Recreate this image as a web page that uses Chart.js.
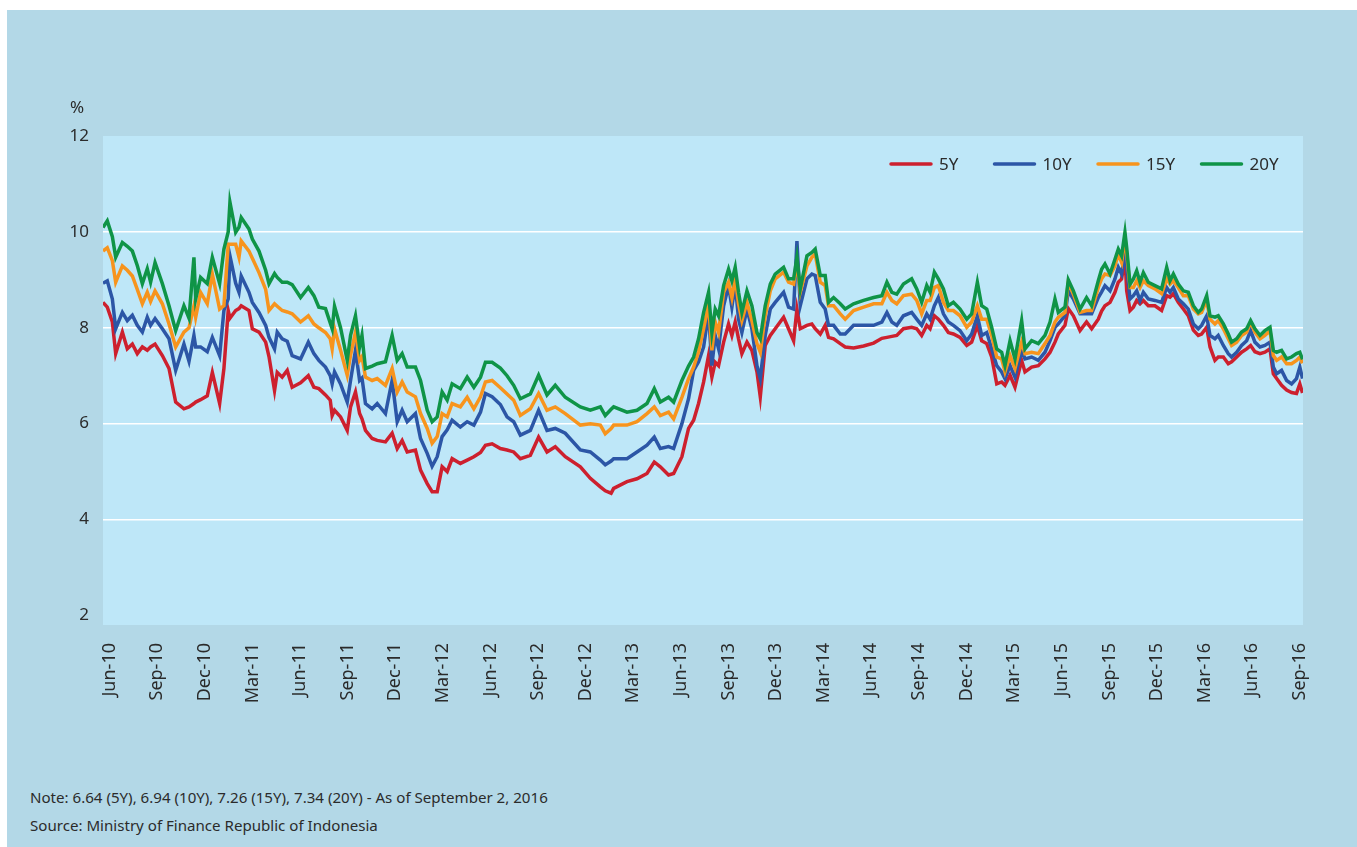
<!DOCTYPE html>
<html>
<head>
<meta charset="utf-8">
<title>Indonesia government bond yields</title>
<script src="https://cdn.jsdelivr.net/npm/chart.js@4.4.1/dist/chart.umd.min.js"></script>
<style>
html, body { margin: 0; padding: 0; background: #fff; }
#panel { position: absolute; left: 7px; top: 10px; width: 1350px; height: 837px; background: #b3d8e7;
  font-family: "Noto Sans", "Open Sans", sans-serif; color: #2b2b2b; }
#wrap { position: absolute; left: 0; top: 0; width: 1350px; height: 750px; }
#unit { position: absolute; left: 63px; top: 85px; font-size: 17px; line-height: 23px; }
.note { position: absolute; left: 23px; font-size: 15.1px; line-height: 20px; white-space: nowrap; }
</style>
</head>
<body>
<div id="panel">
  <div id="wrap"><canvas id="chart" width="1350" height="750"></canvas></div>
  <div id="unit">%</div>
  <div class="note" style="top:777px">Note: 6.64 (5Y), 6.94 (10Y), 7.26 (15Y), 7.34 (20Y) - As of September 2, 2016</div>
  <div class="note" style="top:805px">Source: Ministry of Finance Republic of Indonesia</div>
</div>
<script>
// months since June 2010
const months = [
  -0.42, -0.15, 0.17, 0.38, 0.8, 1.11, 1.43, 1.74, 2.06, 2.37, 2.58, 2.86, 3.32, 3.74, 4.16, 4.68, 5.0, 5.31, 5.42, 5.73,
  6.15, 6.47, 6.93, 7.2, 7.47, 7.58, 7.94, 8.15, 8.29, 8.78, 8.99, 9.41, 9.83, 10.04, 10.39, 10.56, 10.87, 11.19, 11.5, 12.03,
  12.52, 12.87, 13.18, 13.6, 13.9, 14.02, 14.17, 14.55, 14.97, 15.18, 15.49, 15.75, 15.9, 16.12, 16.54, 16.86, 17.38, 17.8, 18.12, 18.43,
  18.75, 19.27, 19.59, 20.01, 20.32, 20.64, 20.95, 21.27, 21.58, 22.1, 22.53, 22.95, 23.37, 23.68, 24.1, 24.62, 25.04, 25.46, 25.88, 26.51,
  27.03, 27.56, 28.08, 28.71, 29.66, 30.29, 30.92, 31.23, 31.6, 31.76, 32.6, 33.23, 33.86, 34.32, 34.7, 35.22, 35.54, 36.06, 36.48, 36.8,
  37.11, 37.43, 37.74, 37.95, 38.16, 38.37, 38.69, 39.0, 39.21, 39.42, 39.63, 39.84, 40.16, 40.47, 40.79, 41.0, 41.31, 41.63, 41.94, 42.47,
  42.78, 43.1, 43.31, 43.52, 43.94, 44.25, 44.46, 44.78, 45.09, 45.3, 45.62, 46.04, 46.35, 46.88, 47.51, 48.14, 48.66, 48.98, 49.29, 49.6,
  50.02, 50.54, 50.86, 51.17, 51.49, 51.7, 51.97, 52.22, 52.54, 52.85, 53.17, 53.59, 54.01, 54.32, 54.68, 54.95, 55.27, 55.58, 55.9, 56.21,
  56.42, 56.74, 57.05, 57.47, 57.68, 58.1, 58.52, 58.94, 59.26, 59.57, 59.78, 60.2, 60.41, 60.73, 61.15, 61.56, 61.88, 62.3, 62.51, 62.72,
  63.04, 63.35, 63.56, 63.77, 63.98, 64.09, 64.3, 64.51, 64.72, 64.93, 65.14, 65.45, 65.87, 66.29, 66.61, 66.82, 67.03, 67.34, 67.66, 67.97,
  68.29, 68.6, 68.81, 69.13, 69.34, 69.65, 69.86, 70.18, 70.49, 70.7, 71.02, 71.33, 71.65, 71.9, 72.17, 72.49, 72.8, 73.12, 73.33, 73.54,
  73.85, 74.17, 74.48, 74.79, 75.0, 75.17
];
const y5 = [
  8.53, 8.43, 8.12, 7.46, 7.91, 7.56, 7.66, 7.46, 7.6, 7.53, 7.6, 7.66, 7.42, 7.15, 6.45, 6.31, 6.35, 6.42, 6.45, 6.5,
  6.58, 7.07, 6.42, 7.15, 8.36, 8.2, 8.36, 8.4, 8.46, 8.36, 7.98, 7.91, 7.7, 7.4, 6.69, 7.07, 6.97, 7.11, 6.76, 6.85,
  7.0, 6.76, 6.73, 6.6, 6.49, 6.17, 6.28, 6.14, 5.86, 6.35, 6.66, 6.21, 6.1, 5.86, 5.69, 5.65, 5.62, 5.8, 5.48, 5.65,
  5.41, 5.45, 5.03, 4.75, 4.58, 4.58, 5.1, 5.0, 5.27, 5.17, 5.24, 5.31, 5.4, 5.55, 5.58, 5.48, 5.45, 5.41, 5.27, 5.34,
  5.72, 5.41, 5.52, 5.31, 5.1, 4.86, 4.68, 4.6, 4.55, 4.65, 4.79, 4.85, 4.96, 5.2, 5.1, 4.93, 4.96, 5.31, 5.9, 6.07,
  6.42, 6.87, 7.42, 6.97, 7.28, 7.21, 7.7, 8.08, 7.84, 8.12, 7.77, 7.46, 7.7, 7.53, 7.08, 6.56, 7.63, 7.84, 7.98, 8.22,
  7.98, 7.73, 8.39, 7.98, 8.05, 8.08, 7.98, 7.87, 8.05, 7.8, 7.77, 7.67, 7.6, 7.58, 7.62, 7.68, 7.78, 7.8, 7.82, 7.84,
  7.98, 8.01, 7.98, 7.84, 8.05, 7.98, 8.25, 8.18, 8.05, 7.9, 7.87, 7.8, 7.63, 7.7, 8.05, 7.73, 7.67, 7.39, 6.83, 6.87,
  6.8, 7.01, 6.76, 7.32, 7.08, 7.18, 7.21, 7.35, 7.49, 7.7, 7.87, 8.05, 8.4, 8.25, 7.94, 8.12, 7.98, 8.18, 8.35, 8.46,
  8.53, 8.74, 8.95, 9.02, 9.47, 8.77, 8.36, 8.43, 8.57, 8.5, 8.57, 8.46, 8.46, 8.36, 8.67, 8.64, 8.71, 8.53, 8.39, 8.25,
  7.95, 7.84, 7.87, 8.01, 7.6, 7.32, 7.39, 7.39, 7.25, 7.29, 7.39, 7.49, 7.56, 7.63, 7.5, 7.46, 7.49, 7.56, 7.04, 6.94,
  6.8, 6.7, 6.65, 6.63, 6.83, 6.64
];
const y10 = [
  8.93, 8.98, 8.6, 7.98, 8.32, 8.15, 8.26, 8.05, 7.91, 8.22, 8.05, 8.19, 7.98, 7.77, 7.11, 7.66, 7.3, 7.84, 7.6, 7.6,
  7.5, 7.8, 7.42, 8.36, 8.6, 9.5, 8.93, 8.74, 9.08, 8.74, 8.53, 8.32, 8.05, 7.8, 7.56, 7.91, 7.77, 7.72, 7.42, 7.35,
  7.7, 7.46, 7.32, 7.18, 7.0, 6.83, 7.08, 6.83, 6.45, 6.9, 7.53, 6.9, 6.95, 6.42, 6.31, 6.42, 6.21, 6.9, 6.04, 6.28,
  6.04, 6.21, 5.69, 5.38, 5.11, 5.31, 5.73, 5.87, 6.07, 5.93, 6.04, 5.97, 6.24, 6.63, 6.56, 6.4, 6.14, 6.04, 5.76, 5.86,
  6.28, 5.86, 5.9, 5.8, 5.45, 5.41, 5.24, 5.14, 5.22, 5.27, 5.27, 5.41, 5.55, 5.72, 5.48, 5.52, 5.48, 6.0, 6.52, 7.11,
  7.29, 7.6, 8.32, 7.21, 7.84, 7.56, 8.46, 8.88, 8.43, 8.91, 8.18, 7.9, 8.39, 7.98, 7.21, 6.94, 7.84, 8.39, 8.53, 8.74,
  8.43, 8.39, 9.81, 8.46, 9.02, 9.12, 9.09, 8.53, 8.39, 8.05, 8.05, 7.87, 7.87, 8.05, 8.05, 8.05, 8.12, 8.32, 8.12, 8.05,
  8.25, 8.32, 8.18, 8.05, 8.29, 8.18, 8.46, 8.63, 8.29, 8.12, 8.05, 7.94, 7.73, 7.87, 8.25, 7.84, 7.9, 7.56, 7.21, 7.08,
  6.94, 7.21, 6.97, 7.53, 7.35, 7.39, 7.32, 7.49, 7.73, 8.01, 8.08, 8.25, 8.77, 8.6, 8.29, 8.29, 8.29, 8.63, 8.75, 8.88,
  8.77, 9.02, 9.26, 9.12, 9.57, 9.26, 8.6, 8.67, 8.77, 8.57, 8.74, 8.6, 8.57, 8.53, 8.84, 8.74, 8.84, 8.6, 8.5, 8.39,
  8.08, 7.98, 8.05, 8.25, 7.84, 7.77, 7.84, 7.63, 7.46, 7.39, 7.49, 7.63, 7.73, 7.94, 7.7, 7.6, 7.63, 7.7, 7.18, 7.04,
  7.11, 6.9, 6.83, 6.94, 7.18, 6.94
];
const y15 = [
  9.6, 9.67, 9.4, 8.95, 9.29, 9.2, 9.08, 8.8, 8.5, 8.74, 8.55, 8.77, 8.5, 8.08, 7.6, 7.91, 8.0, 8.46, 8.22, 8.74,
  8.5, 9.12, 8.39, 8.46, 9.74, 9.74, 9.74, 9.47, 9.81, 9.6, 9.45, 9.15, 8.8, 8.36, 8.5, 8.45, 8.36, 8.33, 8.29, 8.12,
  8.25, 8.08, 8.0, 7.9, 7.77, 7.56, 7.98, 7.53, 7.01, 7.43, 7.91, 7.32, 7.4, 6.97, 6.9, 6.94, 6.8, 7.15, 6.66, 6.87,
  6.66, 6.56, 6.21, 5.9, 5.59, 5.73, 6.21, 6.14, 6.42, 6.35, 6.55, 6.31, 6.56, 6.87, 6.9, 6.75, 6.62, 6.49, 6.17, 6.31,
  6.63, 6.28, 6.35, 6.21, 5.97, 6.0, 5.97, 5.79, 5.9, 5.97, 5.97, 6.04, 6.21, 6.35, 6.17, 6.24, 6.1, 6.55, 6.94, 7.18,
  7.5, 7.98, 8.5, 7.53, 8.12, 7.9, 8.74, 8.95, 8.63, 9.05, 8.5, 8.15, 8.53, 8.15, 7.67, 7.49, 8.25, 8.77, 9.02, 9.16,
  8.95, 8.91, 9.36, 8.74, 9.29, 9.47, 9.54, 8.95, 8.88, 8.46, 8.46, 8.29, 8.18, 8.36, 8.43, 8.5, 8.5, 8.74, 8.57, 8.5,
  8.67, 8.7, 8.57, 8.29, 8.57, 8.57, 8.84, 8.88, 8.53, 8.36, 8.36, 8.25, 8.01, 8.12, 8.46, 8.18, 8.18, 7.84, 7.39, 7.35,
  7.08, 7.42, 7.15, 7.7, 7.46, 7.49, 7.46, 7.67, 7.84, 8.12, 8.22, 8.32, 8.95, 8.7, 8.32, 8.36, 8.36, 8.84, 9.02, 9.12,
  9.09, 9.29, 9.54, 9.36, 9.88, 9.54, 8.84, 8.84, 8.98, 8.84, 8.98, 8.88, 8.81, 8.71, 9.02, 8.91, 8.98, 8.84, 8.67, 8.67,
  8.39, 8.29, 8.32, 8.57, 8.18, 8.08, 8.15, 7.98, 7.77, 7.63, 7.7, 7.84, 7.91, 8.12, 7.91, 7.77, 7.84, 7.94, 7.42, 7.32,
  7.39, 7.25, 7.25, 7.32, 7.39, 7.26
];
const y20 = [
  10.09, 10.23, 9.9, 9.47, 9.78, 9.7, 9.6, 9.3, 8.92, 9.23, 8.95, 9.36, 8.92, 8.46, 7.94, 8.46, 8.2, 9.47, 8.6, 9.05,
  8.92, 9.47, 8.92, 9.64, 10.0, 10.62, 9.99, 10.1, 10.3, 10.06, 9.85, 9.6, 9.2, 8.92, 9.13, 9.05, 8.95, 8.95, 8.9, 8.63,
  8.84, 8.67, 8.43, 8.4, 8.1, 7.98, 8.45, 8.0, 7.32, 7.84, 8.25, 7.6, 7.84, 7.15, 7.2, 7.25, 7.29, 7.84, 7.32, 7.46,
  7.18, 7.18, 6.9, 6.28, 6.04, 6.14, 6.66, 6.49, 6.83, 6.73, 6.97, 6.76, 6.97, 7.28, 7.28, 7.16, 7.0, 6.8, 6.52, 6.62,
  7.01, 6.6, 6.8, 6.55, 6.35, 6.28, 6.35, 6.17, 6.3, 6.35, 6.24, 6.28, 6.42, 6.73, 6.45, 6.55, 6.45, 6.9, 7.2, 7.39,
  7.77, 8.32, 8.74, 7.9, 8.39, 8.25, 8.88, 9.22, 8.98, 9.26, 8.74, 8.32, 8.77, 8.46, 7.9, 7.77, 8.46, 8.91, 9.12, 9.26,
  9.02, 9.02, 9.47, 8.81, 9.5, 9.57, 9.64, 9.09, 9.09, 8.53, 8.63, 8.5, 8.39, 8.5, 8.57, 8.63, 8.67, 8.95, 8.74, 8.7,
  8.91, 9.02, 8.81, 8.53, 8.88, 8.74, 9.16, 9.02, 8.81, 8.46, 8.53, 8.39, 8.18, 8.29, 8.95, 8.46, 8.39, 8.01, 7.56, 7.49,
  7.21, 7.73, 7.35, 8.15, 7.56, 7.73, 7.67, 7.84, 8.12, 8.6, 8.32, 8.43, 9.0, 8.77, 8.39, 8.63, 8.46, 8.98, 9.22, 9.33,
  9.12, 9.43, 9.64, 9.5, 9.99, 9.67, 8.91, 9.02, 9.19, 8.95, 9.15, 8.95, 8.88, 8.81, 9.26, 8.98, 9.12, 8.91, 8.77, 8.74,
  8.46, 8.32, 8.39, 8.67, 8.25, 8.22, 8.25, 8.08, 7.87, 7.7, 7.77, 7.91, 7.98, 8.15, 7.98, 7.84, 7.94, 8.01, 7.53, 7.49,
  7.53, 7.35, 7.39, 7.46, 7.49, 7.34
];
const tickLabels = ['Jun-10', 'Sep-10', 'Dec-10', 'Mar-11', 'Jun-11', 'Sep-11', 'Dec-11', 'Mar-12', 'Jun-12',
  'Sep-12', 'Dec-12', 'Mar-13', 'Jun-13', 'Sep-13', 'Dec-13', 'Mar-14', 'Jun-14', 'Sep-14', 'Dec-14', 'Mar-15',
  'Jun-15', 'Sep-15', 'Dec-15', 'Mar-16', 'Jun-16', 'Sep-16'];
const yTicks = [2, 4, 6, 8, 10, 12];
const seriesNames = ['5Y', '10Y', '15Y', '20Y'];

const colors = ['#cd202e', '#2c56a6', '#f7941d', '#0f9447'];
const font = '"Noto Sans", "Open Sans", sans-serif';
const textColor = '#2b2b2b';

function points(values) {
  return months.map((m, i) => ({ x: m, y: values[i] }));
}

// light blue plot background
const plotBg = {
  id: 'plotBg',
  beforeDraw(chart) {
    const a = chart.chartArea;
    const ctx = chart.ctx;
    ctx.save();
    ctx.fillStyle = '#bee7f8';
    ctx.fillRect(a.left, a.top, a.right - a.left, a.bottom - a.top);
    ctx.restore();
  }
};

// legend drawn inside the plot, top right
const innerLegend = {
  id: 'innerLegend',
  afterDraw(chart) {
    const a = chart.chartArea;
    const ctx = chart.ctx;
    const y = a.top + 28;
    ctx.save();
    ctx.font = '17px ' + font;
    ctx.textBaseline = 'middle';
    chart.data.datasets.forEach((ds, i) => {
      const x0 = a.right - 412 + i * 103.5;
      ctx.strokeStyle = ds.borderColor;
      ctx.lineWidth = 3.5;
      ctx.lineCap = 'round';
      ctx.beginPath();
      ctx.moveTo(x0, y);
      ctx.lineTo(x0 + 40, y);
      ctx.stroke();
      ctx.fillStyle = textColor;
      ctx.fillText(ds.label, x0 + 48, y + 1);
    });
    ctx.restore();
  }
};

const series = [y5, y10, y15, y20];

new Chart(document.getElementById('chart'), {
  type: 'line',
  data: {
    datasets: series.map((vals, i) => ({
      label: seriesNames[i],
      data: points(vals),
      borderColor: colors[i],
      borderWidth: 3.5,
      pointRadius: 0,
      tension: 0,
      order: 3 - i
    }))
  },
  options: {
    responsive: false,
    animation: false,
    layout: { padding: { top: 126, right: 54, left: 0, bottom: 0 } },
    plugins: { legend: { display: false }, tooltip: { enabled: false } },
    scales: {
      x: {
        type: 'linear',
        min: -0.42,
        max: 75.2,
        afterBuildTicks: s => { s.ticks = tickLabels.map((t, i) => ({ value: i * 3 })); },
        afterFit: s => { s.height = 135; },
        grid: { display: false },
        border: { display: false },
        ticks: {
          autoSkip: false,
          minRotation: 90,
          maxRotation: 90,
          padding: 10,
          color: textColor,
          font: { family: font, size: 18 },
          callback: (v, i) => tickLabels[i]
        }
      },
      y: {
        min: 1.8,
        max: 12,
        afterBuildTicks: s => { s.ticks = yTicks.map(v => ({ value: v })); },
        afterFit: s => { s.width = 96; },
        border: { display: false },
        grid: {
          drawTicks: false,
          lineWidth: 1.5,
          color: c => (c.tick && c.tick.value > 2 && c.tick.value < 12) ? '#ffffff' : 'rgba(0,0,0,0)'
        },
        ticks: {
          padding: 14,
          color: textColor,
          font: { family: font, size: 17 }
        }
      }
    }
  },
  plugins: [plotBg, innerLegend]
});
</script>
</body>
</html>
